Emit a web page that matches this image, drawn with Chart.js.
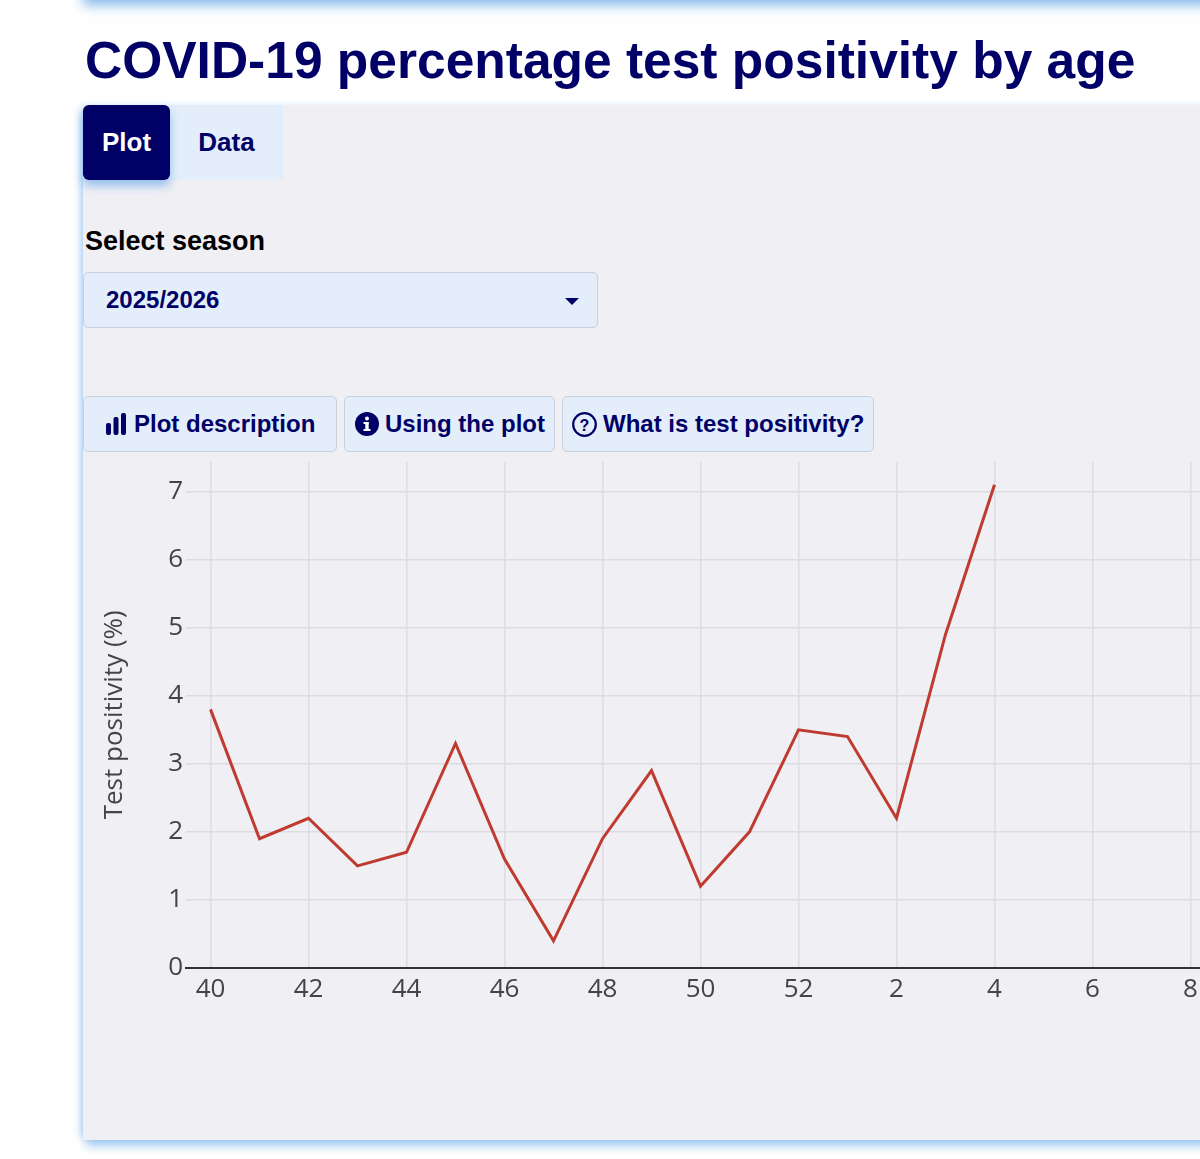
<!DOCTYPE html>
<html>
<head>
<meta charset="utf-8">
<script src="https://cdn.jsdelivr.net/npm/chart.js@4"></script>
<style>
  html, body { margin: 0; padding: 0; width: 1200px; height: 1159px; overflow: hidden; background: #fff; font-family: "Liberation Sans", Arial, sans-serif; }
  .topbar { position: absolute; left: 83px; right: -40px; top: -40px; height: 40px; background: #fff; box-shadow: 0 5px 12px rgba(90,160,230,0.75); }
  h1 { position: absolute; left: 85px; top: 30px; margin: 0; font-size: 51.5px; font-weight: bold; color: #000066; white-space: nowrap; }
  .panel { position: absolute; left: 83px; top: 105px; width: 1200px; height: 1035px; background: #f0eff4; box-shadow: -5px 0 8px -3px rgba(90,160,230,0.45), 0 9px 9px -3px rgba(90,160,230,0.55); }
  .tab { position: absolute; top: 105px; height: 75px; line-height: 75px; font-size: 26px; font-weight: bold; text-align: center; }
  .tab.on { left: 83px; width: 87px; background: #000066; color: #fff; border-radius: 6px; box-shadow: 0 6px 10px rgba(90,160,230,0.6); z-index: 2; }
  .tab.off { left: 170px; width: 113px; background: #e3eefa; color: #000066; }
  .lbl { position: absolute; left: 85px; top: 226px; font-size: 27px; font-weight: bold; color: #000; }
  .select { position: absolute; left: 83px; top: 272px; width: 513px; height: 54px; background: #e3eefa; border: 1px solid #c9cfdc; border-radius: 5px; }
  .select span { position: absolute; left: 22px; top: 13px; font-size: 24px; font-weight: bold; color: #000066; }
  .select .caret { position: absolute; left: 481px; top: 25px; width: 0; height: 0; border-left: 7px solid transparent; border-right: 7px solid transparent; border-top: 7px solid #000066; }
  .btn { position: absolute; top: 396px; background: #e3eefa; border: 1px solid #c9cfdc; border-radius: 5px; color: #000066; font-size: 24px; font-weight: bold; line-height: 54px; white-space: nowrap; box-sizing: border-box; height: 56px; }
  .btn svg { position: absolute; top: 16px; }
  .btn span { position: absolute; top: 0; }
  #wrap { position: absolute; left: 83px; top: 443px; width: 1377px; height: 579px; }
</style>
</head>
<body>
<div class="topbar"></div>
<h1>COVID-19 percentage test positivity by age</h1>
<div class="panel"></div>
<div class="tab on">Plot</div>
<div class="tab off">Data</div>
<div class="lbl">Select season</div>
<div class="select"><span>2025/2026</span><div class="caret"></div></div>

<div class="btn" style="left:83px;width:254px;">
  <svg style="left:21px" width="22" height="22" viewBox="0 0 22 22" fill="#000066">
    <rect x="1" y="10" width="5" height="12" rx="2"/><rect x="8.5" y="4" width="5" height="18" rx="2"/><rect x="16" y="0" width="5" height="22" rx="2"/>
  </svg>
  <span style="left:50px">Plot description</span>
</div>
<div class="btn" style="left:344px;width:211px;">
  <svg style="left:10px;top:15px" width="24" height="24" viewBox="0 0 24 24">
    <circle cx="12" cy="12" r="12" fill="#000066"/>
    <rect x="10.3" y="10" width="3.4" height="9" fill="#fff"/><rect x="8.5" y="10" width="5" height="2" fill="#fff"/><rect x="8.5" y="17" width="7" height="2" fill="#fff"/>
    <circle cx="12" cy="6.5" r="2" fill="#fff"/>
  </svg>
  <span style="left:40px">Using the plot</span>
</div>
<div class="btn" style="left:562px;width:312px;">
  <svg style="left:9px;top:15px" width="25" height="25" viewBox="0 0 25 25">
    <circle cx="12.5" cy="12.5" r="11.3" fill="none" stroke="#000066" stroke-width="2.2"/>
    <text x="12.5" y="18.5" text-anchor="middle" font-family="Liberation Sans, Arial" font-weight="bold" font-size="16" fill="#000066">?</text>
  </svg>
  <span style="left:40px">What is test positivity?</span>
</div>

<div id="wrap"><canvas id="chart"></canvas></div>

<script>
// Data

const weeks = ["40", "41", "42", "43", "44", "45", "46", "47", "48", "49", "50", "51", "52",
  "1", "2", "3", "4", "5", "6", "7", "8", "9", "10", "11", "12", "13"];
const positivity = [3.8, 1.9, 2.2, 1.5, 1.7, 3.3, 1.6, 0.4, 1.9, 2.9, 1.2, 2.0, 3.5,
  3.4, 2.2, 4.9, 7.1];
const yTicks = [0, 1, 2, 3, 4, 5, 6, 7];

const axisFont = { family: "'Open Sans', 'DejaVu Sans', sans-serif", size: 26 };
const gridColor = "#dcdce2";

const ctx = document.getElementById("chart").getContext("2d");
const chart = new Chart(ctx, {
  type: "line",
  data: {
    labels: weeks,
    datasets: [{
      label: "Test positivity (%)",
      data: positivity,
      borderColor: "#bf3b30",
      borderWidth: 3,
      pointRadius: 0,
      tension: 0,
      fill: false,
    }],
  },
  options: {
    responsive: true,
    maintainAspectRatio: false,
    animation: false,
    layout: { padding: 0 },
    plugins: { legend: { display: false }, tooltip: { enabled: false } },
    scales: {
      x: {
        type: "category",
        offset: true,
        grid: { offset: false, color: gridColor, lineWidth: 1.5, drawTicks: false },
        border: { display: true, color: "#333", width: 2 },
        ticks: {
          autoSkip: false,
          maxRotation: 0,
          padding: 6,
          color: "#444",
          font: axisFont,
          // only every second week is labelled, as in the original
          callback: function (value, index) {
            return index % 2 === 0 ? this.getLabelForValue(value) : null;
          },
        },
        afterFit: function (scale) { scale.height = 54; },
      },
      y: {
        min: 0,
        max: 7.44,
        grid: { color: gridColor, lineWidth: 1.5, drawTicks: false },
        border: { display: false },
        afterBuildTicks: function (scale) {
          scale.ticks = yTicks.map(v => ({ value: v }));
        },
        ticks: { padding: 3, color: "#444", font: axisFont },
        title: {
          display: true,
          text: "Test positivity (%)",
          color: "#444",
          font: { family: "'Open Sans', 'DejaVu Sans', sans-serif", size: 26 },
          padding: { top: 16, bottom: 0 },
        },
        afterFit: function (scale) { scale.width = 103; },
      },
    },
  },
});
</script>
</body>
</html>
